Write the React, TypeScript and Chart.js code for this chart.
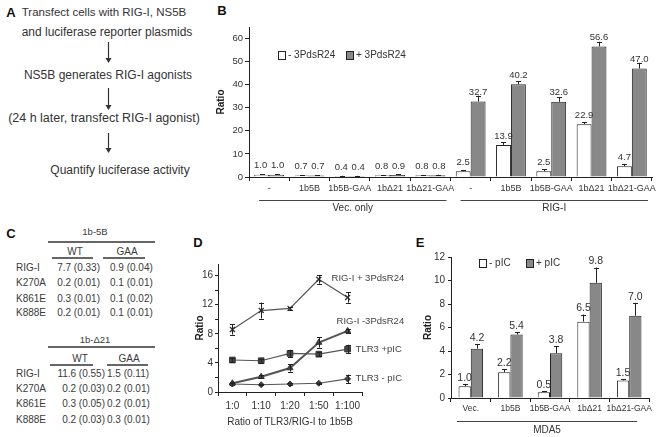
import React, { useEffect, useRef } from 'react';
import { Chart, registerables } from 'chart.js';
Chart.register(...registerables);

const FONT = '"Liberation Sans", Arial, Helvetica, sans-serif';
Chart.defaults.font.family = FONT;
Chart.defaults.color = '#333';

// ---------- Panel A ----------
const aSteps = [
  'Transfect cells with RIG-I, NS5B',
  'and luciferase reporter plasmids',
  'NS5B generates RIG-I agonists',
  '(24 h later, transfect RIG-I agonist)',
  'Quantify luciferase activity',
];

// ---------- Panel B ----------
const bCategories = ['-', '1b5B', '1b5B-GAA', '1bΔ21', '1bΔ21-GAA', '-', '1b5B', '1b5B-GAA', '1bΔ21', '1bΔ21-GAA'];
const bLegend = ['- 3PdsR24', '+ 3PdsR24'];
const bMinus = [1.0, 0.7, 0.4, 0.8, 0.8, 2.5, 13.9, 2.5, 22.9, 4.7];
const bPlus = [1.0, 0.7, 0.4, 0.9, 0.8, 32.7, 40.2, 32.6, 56.6, 47.0];
const bMinusErr = [0.2, 0.1, 0.1, 0.1, 0.1, 0.5, 1.2, 0.8, 0.8, 1.0];
const bPlusErr = [0.3, 0.1, 0.1, 0.2, 0.2, 2.5, 1.2, 2.0, 2.0, 2.5];
const bGroupLabels = ['Vec. only', 'RIG-I'];
const bGroupRanges = [[0, 4], [5, 9]];

// ---------- Panel C ----------
const cMutants = ['RIG-I', 'K270A', 'K861E', 'K888E'];
const cTitles = ['1b-5B', '1b-Δ21'];
const cCols = ['WT', 'GAA'];
const c5bWT = ['7.7 (0.33)', '0.2 (0.01)', '0.3 (0.01)', '0.2 (0.01)'];
const c5bGAA = ['0.9 (0.04)', '0.1 (0.01)', '0.1 (0.02)', '0.1 (0.01)'];
const cD21WT = ['11.6 (0.55)', '0.2 (0.03)', '0.3 (0.05)', '0.2 (0.03)'];
const cD21GAA = ['1.5 (0.11)', '0.2 (0.01)', '0.2 (0.01)', '0.3 (0.01)'];

// ---------- Panel D ----------
const dRatios = ['1:0', '1:10', '1:20', '1:50', '1:100'];
const dSeriesNames = ['RIG-I + 3PdsR24', 'RIG-I -3PdsR24', 'TLR3 +pIC', 'TLR3 - pIC'];
const dRigPlus = [8.6, 11.2, 11.5, 15.5, 13.0];
const dRigPlusErr = [0.7, 1.1, 0.2, 0.6, 0.7];
const dRigMinus = [1.2, 2.1, 3.3, 6.8, 8.4];
const dRigMinusErr = [0.2, 0.2, 0.5, 0.7, 0.3];
const dTlrPlus = [4.4, 4.3, 5.3, 5.2, 5.9];
const dTlrPlusErr = [0.3, 0.3, 0.5, 0.3, 0.6];
const dTlrMinus = [1.1, 1.0, 1.1, 1.2, 1.8];
const dTlrMinusErr = [0.1, 0.1, 0.1, 0.1, 0.6];

// ---------- Panel E ----------
const eCategories = ['Vec.', '1b5B', '1b5B-GAA', '1bΔ21', '1bΔ21-GAA'];
const eLegend = ['- pIC', '+ pIC'];
const eMinus = [1.0, 2.2, 0.5, 6.5, 1.5];
const eMinusErr = [0.2, 0.25, 0.1, 0.6, 0.1];
const ePlus = [4.2, 5.4, 3.8, 9.8, 7.0];
const ePlusErr = [0.4, 0.2, 0.6, 1.3, 1.1];
const eGroupLabel = 'MDA5';

const GREY = '#888888';
const INK = '#222';

function drawErr(chart: any, di: number, errs: number[], both: boolean, cap: number) {
  const ctx = chart.ctx;
  const ys = chart.scales.y;
  const vals = chart.data.datasets[di].data as number[];
  ctx.save();
  ctx.strokeStyle = INK;
  ctx.lineWidth = 1;
  chart.getDatasetMeta(di).data.forEach((el: any, i: number) => {
    const x = Math.round(el.x) + 0.5;
    const yTop = ys.getPixelForValue(vals[i] + errs[i]);
    const yBot = both ? ys.getPixelForValue(vals[i] - errs[i]) : el.y;
    ctx.beginPath();
    ctx.moveTo(x, yBot);
    ctx.lineTo(x, yTop);
    ctx.moveTo(x - cap / 2, Math.round(yTop) + 0.5);
    ctx.lineTo(x + cap / 2, Math.round(yTop) + 0.5);
    if (both) {
      ctx.moveTo(x - cap / 2, Math.round(yBot) + 0.5);
      ctx.lineTo(x + cap / 2, Math.round(yBot) + 0.5);
    }
    ctx.stroke();
  });
  ctx.restore();
}

function drawLegendItem(ctx: any, x: number, y: number, fill: string, text: string) {
  ctx.fillStyle = fill;
  ctx.fillRect(x, y - 4, 7, 8);
  ctx.strokeStyle = INK;
  ctx.lineWidth = 1;
  ctx.strokeRect(x + 0.5, y - 3.5, 7, 8);
  ctx.fillStyle = '#333';
  ctx.textAlign = 'left';
  ctx.textBaseline = 'middle';
  ctx.fillText(text, x + 10, y + 0.5);
}

const bPlugin = {
  id: 'bExtras',
  afterDraw(chart: any) {
    const { ctx, chartArea } = chart;
    const xs = chart.scales.x;
    drawErr(chart, 0, bMinusErr, false, 5);
    drawErr(chart, 1, bPlusErr, false, 5);
    ctx.save();
    ctx.font = `9.5px ${FONT}`;
    ctx.fillStyle = '#333';
    ctx.textAlign = 'center';
    ctx.textBaseline = 'middle';
    [bMinus, bPlus].forEach((vals, di) => {
      chart.getDatasetMeta(di).data.forEach((el: any, i: number) => {
        const shift = vals[i] < 2 ? (di === 0 ? -1 : 1) : 0;
        ctx.fillText(vals[i].toFixed(1), el.x + shift, el.y - 9);
      });
    });
    ctx.font = `10px ${FONT}`;
    const cw = xs.width / bCategories.length;
    bGroupRanges.forEach((r, gi) => {
      const x1 = xs.getPixelForValue(r[0]) - cw * 0.25;
      const x2 = xs.getPixelForValue(r[1]) + cw * 0.4;
      const y = Math.round(chartArea.bottom + 23) + 0.5;
      ctx.strokeStyle = '#444';
      ctx.lineWidth = 1;
      ctx.beginPath();
      ctx.moveTo(x1, y);
      ctx.lineTo(x2, y);
      ctx.stroke();
      ctx.fillStyle = '#333';
      ctx.textAlign = 'center';
      ctx.fillText(bGroupLabels[gi], (x1 + x2) / 2, chartArea.bottom + 31);
    });
    drawLegendItem(ctx, chartArea.left + 29, 55, '#fff', chart.data.datasets[0].label);
    drawLegendItem(ctx, chartArea.left + 97, 55, GREY, chart.data.datasets[1].label);
    ctx.restore();
  },
};

const ePlugin = {
  id: 'eExtras',
  afterDraw(chart: any) {
    const { ctx, chartArea } = chart;
    const xs = chart.scales.x;
    const ys = chart.scales.y;
    drawErr(chart, 0, eMinusErr, false, 5);
    drawErr(chart, 1, ePlusErr, false, 5);
    ctx.save();
    ctx.font = `10.5px ${FONT}`;
    ctx.fillStyle = '#333';
    ctx.textAlign = 'center';
    ctx.textBaseline = 'middle';
    [[eMinus, eMinusErr], [ePlus, ePlusErr]].forEach((pair, di) => {
      const vals = pair[0], errs = pair[1];
      chart.getDatasetMeta(di).data.forEach((el: any, i: number) => {
        const top = ys.getPixelForValue(vals[i] + errs[i]);
        ctx.fillText(vals[i].toFixed(1), el.x, top - 6);
      });
    });
    const cw = xs.width / eCategories.length;
    const x1 = xs.getPixelForValue(0) - cw * 0.35;
    const x2 = xs.getPixelForValue(eCategories.length - 1) + cw * 0.2;
    const y = Math.round(chartArea.bottom + 23) + 0.5;
    ctx.strokeStyle = '#444';
    ctx.lineWidth = 1;
    ctx.beginPath();
    ctx.moveTo(x1, y);
    ctx.lineTo(x2, y);
    ctx.stroke();
    ctx.font = `10px ${FONT}`;
    ctx.fillText(eGroupLabel, (x1 + x2) / 2, chartArea.bottom + 32);
    drawLegendItem(ctx, chartArea.left + 28, 18, '#fff', chart.data.datasets[0].label);
    drawLegendItem(ctx, chartArea.left + 75, 18, GREY, chart.data.datasets[1].label);
    ctx.restore();
  },
};

const dErrs = [dRigPlusErr, dRigMinusErr, dTlrPlusErr, dTlrMinusErr];
const dLabelOffsets = [[-16, -19], [-11, -10], [8, 0], [8, -1]];

const dPlugin = {
  id: 'dExtras',
  afterDraw(chart: any) {
    const { ctx } = chart;
    dErrs.forEach((errs, di) => drawErr(chart, di, errs, true, 5));
    ctx.save();
    ctx.font = `9.5px ${FONT}`;
    ctx.fillStyle = '#444';
    ctx.textAlign = 'left';
    ctx.textBaseline = 'middle';
    chart.data.datasets.forEach((ds: any, di: number) => {
      const pts = chart.getDatasetMeta(di).data;
      const last = pts[pts.length - 1];
      const off = dLabelOffsets[di];
      ctx.fillText(ds.label, last.x + off[0], last.y + off[1]);
    });
    ctx.restore();
  },
};

const axisGrid = (len: number, offset: boolean) => ({
  display: true,
  drawOnChartArea: false,
  drawTicks: true,
  tickLength: len,
  color: INK,
  offset,
});

function BChart() {
  const ref = useRef<HTMLCanvasElement>(null);
  useEffect(() => {
    const chart = new Chart(ref.current as HTMLCanvasElement, {
      type: 'bar',
      data: {
        labels: bCategories,
        datasets: [
          { label: bLegend[0], data: bMinus, backgroundColor: '#ffffff', borderColor: INK, borderWidth: 1, categoryPercentage: 0.74, barPercentage: 1 },
          { label: bLegend[1], data: bPlus, backgroundColor: GREY, borderColor: INK, borderWidth: 1, categoryPercentage: 0.74, barPercentage: 1 },
        ],
      },
      options: {
        responsive: false,
        animation: false,
        layout: { padding: { top: 27, right: 10, left: 0, bottom: 0 } },
        plugins: { legend: { display: false }, tooltip: { enabled: false } },
        scales: {
          x: {
            grid: axisGrid(4, true),
            border: { display: true, color: INK },
            ticks: { font: { size: 9 }, color: '#333', padding: 2, autoSkip: false, maxRotation: 0, minRotation: 0 },
            afterFit: (s: any) => { s.height = 39; },
          },
          y: {
            min: 0,
            max: 65,
            grid: axisGrid(4, false),
            border: { display: true, color: INK },
            ticks: { stepSize: 10, font: { size: 9.5 }, color: '#333', padding: 2 },
            afterBuildTicks: (s: any) => { s.ticks = s.ticks.filter((t: any) => t.value % 10 === 0); },
            title: { display: true, text: 'Ratio', font: { size: 10, weight: 'bold' }, color: INK, padding: { top: 15, bottom: 0 } },
            afterFit: (s: any) => { s.width = 49; },
          },
        },
      } as any,
      plugins: [bPlugin],
    });
    return () => chart.destroy();
  }, []);
  return <canvas ref={ref} width={462} height={216} style={{ position: 'absolute', left: 200, top: 0 }} />;
}

function DChart() {
  const ref = useRef<HTMLCanvasElement>(null);
  useEffect(() => {
    const series = [dRigPlus, dRigMinus, dTlrPlus, dTlrMinus];
    const styles: any[] = [
      { pointStyle: 'crossRot', pointRadius: 3.5, borderWidth: 1.2, pointBorderWidth: 1.3 },
      { pointStyle: 'triangle', pointRadius: 3.5, borderWidth: 2, pointBorderWidth: 1 },
      { pointStyle: 'rect', pointRadius: 4, borderWidth: 1.2, pointBorderWidth: 1 },
      { pointStyle: 'rectRot', pointRadius: 3, borderWidth: 1.2, pointBorderWidth: 1 },
    ];
    const chart = new Chart(ref.current as HTMLCanvasElement, {
      type: 'line',
      data: {
        labels: dRatios,
        datasets: series.map((data, i) => ({
          label: dSeriesNames[i],
          data,
          borderColor: '#555',
          pointBackgroundColor: '#444',
          pointBorderColor: '#333',
          tension: 0,
          ...styles[i],
        })),
      },
      options: {
        responsive: false,
        animation: false,
        layout: { padding: { top: 14, right: 58, left: 0, bottom: 0 } },
        plugins: { legend: { display: false }, tooltip: { enabled: false } },
        scales: {
          x: {
            offset: true,
            grid: axisGrid(4, true),
            border: { display: true, color: INK },
            ticks: { font: { size: 10 }, color: '#333', padding: 4, autoSkip: false, maxRotation: 0, minRotation: 0 },
            title: { display: true, text: 'Ratio of TLR3/RIG-I to 1b5B', font: { size: 10 }, color: '#333', padding: { top: 0, bottom: 2 } },
            afterFit: (s: any) => { s.height = 38; },
          },
          y: {
            min: 0,
            max: 17.6,
            grid: axisGrid(3, false),
            border: { display: true, color: INK },
            ticks: {
              stepSize: 2,
              font: { size: 10 },
              color: '#333',
              padding: 2,
              callback: (v: any) => (Number(v) % 4 === 0 ? String(v) : ''),
            },
            afterBuildTicks: (s: any) => { s.ticks = s.ticks.filter((t: any) => t.value % 2 === 0); },
            title: { display: true, text: 'Ratio', font: { size: 10, weight: 'bold' }, color: INK, padding: { top: 4, bottom: 0 } },
            afterFit: (s: any) => { s.width = 28; },
          },
        },
      } as any,
      plugins: [dPlugin],
    });
    return () => chart.destroy();
  }, []);
  return <canvas ref={ref} width={230} height={180} style={{ position: 'absolute', left: 190, top: 250 }} />;
}

function EChart() {
  const ref = useRef<HTMLCanvasElement>(null);
  useEffect(() => {
    const chart = new Chart(ref.current as HTMLCanvasElement, {
      type: 'bar',
      data: {
        labels: eCategories,
        datasets: [
          { label: eLegend[0], data: eMinus, backgroundColor: '#ffffff', borderColor: INK, borderWidth: 1, categoryPercentage: 0.62, barPercentage: 1 },
          { label: eLegend[1], data: ePlus, backgroundColor: GREY, borderColor: INK, borderWidth: 1, categoryPercentage: 0.62, barPercentage: 1 },
        ],
      },
      options: {
        responsive: false,
        animation: false,
        layout: { padding: { top: 12, right: 13, left: 0, bottom: 0 } },
        plugins: { legend: { display: false }, tooltip: { enabled: false } },
        scales: {
          x: {
            grid: axisGrid(4, true),
            border: { display: true, color: INK },
            ticks: { font: { size: 8.5 }, color: '#333', padding: 2, autoSkip: false, maxRotation: 0, minRotation: 0 },
            afterFit: (s: any) => { s.height = 39; },
          },
          y: {
            min: 0,
            max: 12,
            grid: axisGrid(3, false),
            border: { display: true, color: INK },
            ticks: { stepSize: 2, font: { size: 10 }, color: '#333', padding: 3 },
            title: { display: true, text: 'Ratio', font: { size: 10, weight: 'bold' }, color: INK, padding: { top: 2, bottom: 0 } },
            afterFit: (s: any) => { s.width = 31; },
          },
        },
      } as any,
      plugins: [ePlugin],
    });
    return () => chart.destroy();
  }, []);
  return <canvas ref={ref} width={242} height={192} style={{ position: 'absolute', left: 420, top: 245 }} />;
}

type TxtProps = { x: number; y: number; size?: number; bold?: boolean; anchor?: 'start' | 'middle' | 'end'; color?: string; children: React.ReactNode };
function Txt({ x, y, size = 10, bold = false, anchor = 'start', color = '#3a3a3a', children }: TxtProps) {
  const tx = anchor === 'middle' ? '-50%' : anchor === 'end' ? '-100%' : '0';
  return (
    <div
      style={{
        position: 'absolute',
        left: x,
        top: y,
        transform: `translate(${tx}, -50%)`,
        fontSize: size,
        fontWeight: bold ? 700 : 400,
        color,
        whiteSpace: 'nowrap',
        lineHeight: 1,
        fontFamily: FONT,
      }}
    >
      {children}
    </div>
  );
}

function HLine({ x1, x2, y, w = 1.5, color = '#666' }: { x1: number; x2: number; y: number; w?: number; color?: string }) {
  return <div style={{ position: 'absolute', left: x1, top: y - w / 2, width: x2 - x1, height: w, background: color }} />;
}

function PanelA() {
  const ys = [13, 32, 75, 118, 170];
  const xs = [104, 107, 108, 104, 120];
  const sizes = [11.5, 12, 12, 12.5, 12];
  const arrows = [[42, 63], [88, 110], [133, 153]];
  return (
    <>
      <Txt x={11} y={12} size={13} bold color="#111" anchor="middle">A</Txt>
      {aSteps.map((s, i) => (
        <Txt key={i} x={xs[i]} y={ys[i]} size={sizes[i]} anchor="middle" color="#333">{s}</Txt>
      ))}
      <svg width={230} height={200} style={{ position: 'absolute', left: 0, top: 0 }}>
        {arrows.map((a, i) => (
          <g key={i}>
            <line x1={108.5} x2={108.5} y1={a[0]} y2={a[1] - 4} stroke="#333" strokeWidth={1.2} />
            <polygon points={`105.5,${a[1] - 5} 111.5,${a[1] - 5} 108.5,${a[1]}`} fill="#333" />
          </g>
        ))}
      </svg>
    </>
  );
}

function PanelC() {
  const tables = [
    { title: cTitles[0], wt: c5bWT, gaa: c5bGAA, yTitle: 232, yLine: 242, yCol: 252, yUnder: 258, rows: [268, 283, 299, 313], wtX: 75, gaaX: 127, wtL: [52, 93], gaaL: [103, 145], col1End: 100, col2Start: 110 },
    { title: cTitles[1], wt: cD21WT, gaa: cD21GAA, yTitle: 340, yLine: 347, yCol: 359, yUnder: 365, rows: [374, 389, 404, 420], wtX: 80, gaaX: 129, wtL: [50, 93], gaaL: [107, 148], col1End: 105, col2Start: 107 },
  ];
  return (
    <>
      <Txt x={11} y={233} size={13} bold color="#111" anchor="middle">C</Txt>
      {tables.map((t, ti) => (
        <React.Fragment key={ti}>
          <Txt x={95} y={t.yTitle} size={9.5} anchor="middle">{t.title}</Txt>
          <HLine x1={48} x2={155} y={t.yLine} />
          <Txt x={t.wtX} y={t.yCol} size={10} anchor="middle">{cCols[0]}</Txt>
          <Txt x={t.gaaX} y={t.yCol} size={10} anchor="middle">{cCols[1]}</Txt>
          <HLine x1={t.wtL[0]} x2={t.wtL[1]} y={t.yUnder} />
          <HLine x1={t.gaaL[0]} x2={t.gaaL[1]} y={t.yUnder} />
          {cMutants.map((m, i) => (
            <React.Fragment key={i}>
              <Txt x={16} y={t.rows[i]} size={10}>{m}</Txt>
              <Txt x={t.col1End} y={t.rows[i]} size={10} anchor="end">{t.wt[i]}</Txt>
              <Txt x={t.col2Start} y={t.rows[i]} size={10}>{t.gaa[i]}</Txt>
            </React.Fragment>
          ))}
        </React.Fragment>
      ))}
    </>
  );
}

export default function App() {
  return (
    <div
      style={{
        position: 'absolute',
        left: 0,
        top: 0,
        width: 662,
        height: 437,
        background: '#fff',
        overflow: 'hidden',
        fontFamily: FONT,
      }}
    >
      <PanelA />
      <PanelC />
      <Txt x={222} y={10} size={13} bold color="#111" anchor="middle">B</Txt>
      <Txt x={198} y={242} size={13} bold color="#111" anchor="middle">D</Txt>
      <Txt x={420} y={242} size={13} bold color="#111" anchor="middle">E</Txt>
      <BChart />
      <DChart />
      <EChart />
    </div>
  );
}
